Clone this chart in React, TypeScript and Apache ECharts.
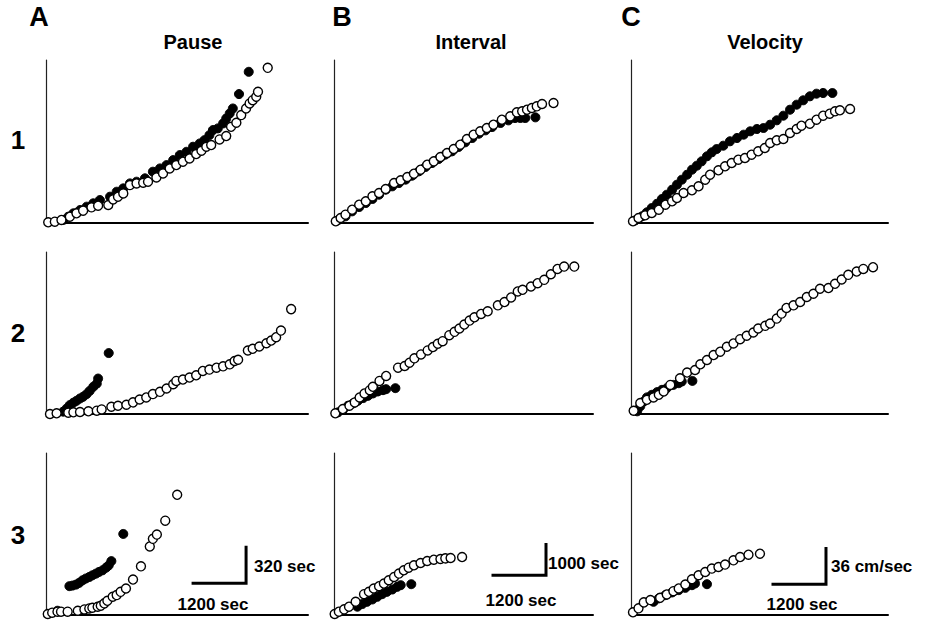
import React, { useEffect, useRef } from "react";
import * as echarts from "echarts";

// ---- column titles / row labels ----
const columnLetters = ["A", "B", "C"];
const columnTitles = ["Pause", "Interval", "Velocity"];
const rowLabels = ["1", "2", "3"];

// ---- data: [time (sec), value] ----
// Column A: cumulative pause (sec)
const pause1Open = [[50,6],[200,12],[350,27],[540,56],[690,86],[840,110],[1030,139],[1180,154],[1410,160],[1520,210],[1630,234],[1750,263],[1900,337],[2050,352],[2200,358],[2310,367],[2500,405],[2650,441],[2800,485],[2950,515],[3100,545],[3250,574],[3400,613],[3520,642],[3630,678],[3740,693],[3930,743],[4080,773],[4190,855],[4310,891],[4420,959],[4530,1018],[4610,1063],[4680,1092],[4760,1122],[4800,1166],[5020,1379]];
const pause1Filled = [[390,27],[505,56],[620,86],[770,115],[920,145],[1070,175],[1220,204],[1450,234],[1600,278],[1750,308],[1900,352],[2050,367],[2240,397],[2420,456],[2580,485],[2730,515],[2880,559],[3030,604],[3180,633],[3330,678],[3480,707],[3590,737],[3700,781],[3780,826],[3890,841],[4010,885],[4080,929],[4160,974],[4230,1018],[4370,1146],[4590,1344]];
const pause2Open = [[90,0],[240,6],[505,12],[620,15],[770,18],[960,24],[1150,30],[1260,41],[1480,65],[1630,74],[1820,83],[1970,104],[2120,130],[2270,148],[2420,178],[2580,198],[2730,228],[2880,266],[2950,296],[3100,308],[3250,326],[3400,346],[3550,385],[3700,397],[3860,414],[4010,426],[4160,444],[4270,474],[4350,485],[4570,568],[4680,583],[4830,604],[4990,633],[5100,657],[5210,687],[5320,746],[5550,938]];
const pause2Filled = [[390,21],[470,50],[540,80],[620,101],[690,118],[770,139],[840,154],[920,178],[990,207],[1070,243],[1150,272],[1180,317],[1420,545]];
const pause3Open = [[40,9],[140,21],[260,30],[340,30],[490,30],[720,38],[870,50],[980,59],[1050,65],[1170,74],[1240,83],[1320,104],[1390,127],[1510,163],[1600,178],[1690,207],[1810,237],[1970,317],[2150,435],[2350,613],[2420,681],[2510,719],[2700,844],[2970,1075]];
const pause3Filled = [[260,38],[530,258],[600,263],[680,272],[750,287],[830,311],[900,326],[980,340],[1050,355],[1130,370],[1200,385],[1280,400],[1360,423],[1420,444],[1480,482],[1750,725]];

// Column B: cumulative interval (sec)
const interval1Open = [[40,54],[150,161],[260,269],[410,430],[570,591],[720,699],[870,860],[1020,968],[1170,1097],[1360,1290],[1510,1376],[1660,1484],[1810,1591],[1960,1720],[2110,1881],[2260,1989],[2410,2129],[2560,2258],[2710,2387],[2860,2526],[3010,2709],[3160,2849],[3310,2956],[3460,3064],[3610,3171],[3800,3333],[3990,3440],[4140,3569],[4260,3601],[4370,3655],[4480,3709],[4590,3763],[4710,3838],[4970,3870]];
const interval1Filled = [[110,108],[260,215],[410,376],[570,516],[720,645],[870,774],[1020,914],[1170,1075],[1320,1183],[1470,1290],[1620,1398],[1770,1527],[1920,1666],[2070,1806],[2220,1935],[2370,2064],[2520,2204],[2670,2311],[2820,2451],[2970,2602],[3130,2741],[3280,2881],[3430,2989],[3580,3096],[3770,3225],[3950,3311],[4100,3386],[4220,3386],[4330,3386],[4560,3408]];
const interval2Open = [[30,22],[200,161],[350,269],[470,376],[580,538],[690,667],[810,774],[880,882],[1030,1075],[1180,1236],[1450,1505],[1600,1559],[1710,1666],[1820,1806],[1970,1935],[2120,2064],[2240,2172],[2350,2279],[2460,2365],[2610,2559],[2730,2666],[2840,2774],[2950,2903],[3070,3032],[3180,3139],[3330,3247],[3480,3333],[3710,3526],[3860,3634],[4010,3784],[4160,3978],[4270,4031],[4460,4139],[4610,4246],[4760,4354],[4910,4537],[5060,4709],[5210,4784],[5440,4784]];
const interval2Filled = [[90,54],[200,129],[320,269],[430,344],[540,430],[660,516],[770,591],[880,667],[990,731],[1110,774],[1180,806],[1390,839]];
const interval3Open = [[15,32],[110,108],[230,183],[340,269],[490,430],[680,677],[790,753],[900,860],[1020,935],[1130,1021],[1240,1129],[1360,1236],[1470,1344],[1580,1451],[1690,1537],[1810,1613],[1960,1688],[2110,1752],[2260,1795],[2410,1817],[2520,1838],[2640,1849],[2900,1881]];
const interval3Filled = [[530,269],[640,355],[750,430],[870,505],[980,591],[1090,677],[1200,753],[1320,828],[1430,914],[1510,968],[1750,1000]];

// Column C: velocity (cm/sec)
const velocity1Open = [[45,1.7],[170,5],[320,7.7],[470,10],[630,13.3],[780,18.3],[930,21.7],[1040,25],[1190,30],[1380,32.7],[1530,36.7],[1680,43.3],[1790,48.3],[1980,52.7],[2130,56.7],[2280,60],[2430,63.3],[2580,65],[2730,68.3],[2880,71.7],[3030,75],[3150,80],[3300,82.7],[3450,84],[3600,90],[3750,94],[3860,97.3],[4050,99.3],[4200,103.3],[4350,107.3],[4500,109.3],[4620,111.7],[4730,112.7],[4960,114]];
const velocity1Filled = [[100,2.7],[250,6.7],[360,10.7],[470,15],[590,19.3],[700,24],[810,28.3],[930,33.3],[1040,38.3],[1150,43.3],[1270,48.3],[1380,53.3],[1490,57.3],[1600,61.7],[1720,66.7],[1830,70.7],[1940,74],[2090,77.3],[2240,81.7],[2400,85],[2550,88.3],[2700,91.7],[2850,94],[3000,95],[3150,98.3],[3300,102.7],[3450,107.3],[3600,113.3],[3750,118.3],[3900,122.7],[4050,126.7],[4200,129.3],[4350,130],[4560,130]];
const velocity2Open = [[60,3.3],[210,11],[360,14.3],[510,16.7],[630,19.3],[740,22.7],[890,29.3],[1110,36],[1270,41.7],[1450,44.3],[1570,50],[1720,54.3],[1870,59.3],[2020,62.7],[2170,67.7],[2320,71],[2470,75.3],[2620,78.7],[2770,82],[2880,86],[3040,88.7],[3150,91],[3300,96],[3410,101],[3520,106.7],[3680,109.3],[3830,112.7],[3980,117.7],[4130,121],[4280,126],[4470,126.7],[4620,131],[4770,135.3],[4920,140],[5110,143.3],[5260,146],[5480,147.7]];
const velocity2Filled = [[140,2.7],[210,7.7],[290,12.7],[360,16.7],[470,19.3],[590,22],[700,24.3],[810,26],[960,29.3],[1080,31],[1150,32.7],[1390,33.3]];
const velocity3Open = [[45,2.7],[170,6.7],[290,12.7],[440,15],[660,17.3],[810,20.7],[960,24],[1080,26.7],[1230,30.7],[1380,36],[1530,40],[1680,43.3],[1830,46.7],[1980,48.3],[2130,50.7],[2320,55],[2470,58.3],[2660,60.7],[2920,61.7]];
const velocity3Filled = [[510,13.3],[630,16.7],[780,20],[930,22.7],[1080,25],[1230,27.3],[1380,30],[1450,31.7],[1720,31]];

// scale bars (row 3): [x0, y0, x-length, y-length]
const scaleBars = [
  [3330, 285, 1200, 320],
  [3600, 1290, 1200, 1000],
  [3215, 31, 1200, 36],
];
const scaleLabelsY = ["320 sec", "1000 sec", "36 cm/sec"];
const scaleLabelX = "1200 sec";

const openData = [
  [pause1Open, interval1Open, velocity1Open],
  [pause2Open, interval2Open, velocity2Open],
  [pause3Open, interval3Open, velocity3Open],
];
const filledData = [
  [pause1Filled, interval1Filled, velocity1Filled],
  [pause2Filled, interval2Filled, velocity2Filled],
  [pause3Filled, interval3Filled, velocity3Filled],
];

// layout (px)
const gridLeft = [46, 334, 631];
const gridWidth = [262, 259, 257];
const gridTop = [60, 252, 453];
const gridHeight = [163, 162, 162];
const secPerPx = 1200 / 53;
const yUnitsPerPx = [320 / 36, 1000 / 31, 1];

const FONT = "'Liberation Sans', Arial, Helvetica, sans-serif";

export default function App() {
  const ref = useRef<HTMLDivElement>(null);
  useEffect(() => {
    if (!ref.current) return;
    const chart = echarts.init(ref.current, null, { renderer: "svg" });
    const grids: any[] = [];
    const xAxes: any[] = [];
    const yAxes: any[] = [];
    const series: any[] = [];
    const graphics: any[] = [];
    for (let r = 0; r < 3; r++) {
      for (let c = 0; c < 3; c++) {
        const i = r * 3 + c;
        grids.push({ left: gridLeft[c], top: gridTop[r], width: gridWidth[c], height: gridHeight[r] });
        xAxes.push({
          type: "value", gridIndex: i, min: 0, max: Math.round(gridWidth[c] * secPerPx),
          axisLine: { show: true, onZero: false, lineStyle: { color: "#000", width: 2 } },
          axisTick: { show: false }, axisLabel: { show: false }, splitLine: { show: false },
        });
        yAxes.push({
          type: "value", gridIndex: i, min: 0, max: Math.round(163 * yUnitsPerPx[c] * 10) / 10,
          axisLine: { show: true, onZero: false, lineStyle: { color: "#222", width: 1.2 } },
          axisTick: { show: false }, axisLabel: { show: false }, splitLine: { show: false },
        });
        series.push({
          type: "scatter", xAxisIndex: i, yAxisIndex: i, data: filledData[r][c],
          symbol: "circle", symbolSize: 9, clip: false,
          itemStyle: { color: "#000", borderColor: "#000", borderWidth: 1, opacity: 1 },
        });
        series.push({
          type: "scatter", xAxisIndex: i, yAxisIndex: i, data: openData[r][c],
          symbol: "circle", symbolSize: 9, clip: false,
          itemStyle: { color: "#fff", borderColor: "#000", borderWidth: 1.4, opacity: 1 },
        });
        if (r === 2) {
          const [x0, y0, lx, ly] = scaleBars[c];
          series.push({
            type: "line", xAxisIndex: i, yAxisIndex: i, symbol: "none",
            data: [[x0, y0], [x0 + lx, y0], [x0 + lx, y0 + ly]],
            lineStyle: { color: "#000", width: 3, cap: "square", join: "miter" },
            z: 5,
          });
        }
      }
    }
    // titles
    const letterX = [39, 342, 631];
    const titleX = [193, 471, 765];
    for (let c = 0; c < 3; c++) {
      graphics.push({ type: "text", x: letterX[c], y: 17, style: { text: columnLetters[c], font: `bold 27px ${FONT}`, fill: "#000", align: "center", verticalAlign: "middle" } });
      graphics.push({ type: "text", x: titleX[c], y: 42, style: { text: columnTitles[c], font: `bold 20px ${FONT}`, fill: "#000", align: "center", verticalAlign: "middle" } });
    }
    const rowY = [140, 333, 535];
    for (let r = 0; r < 3; r++) {
      graphics.push({ type: "text", x: 18, y: rowY[r], style: { text: rowLabels[r], font: `bold 26px ${FONT}`, fill: "#000", align: "center", verticalAlign: "middle" } });
    }
    // scale bar labels
    const yLabPos = [[254, 566], [548, 563], [831, 566]];
    const xLabPos = [[213, 604], [521, 600], [802, 604]];
    for (let c = 0; c < 3; c++) {
      graphics.push({ type: "text", x: yLabPos[c][0], y: yLabPos[c][1], style: { text: scaleLabelsY[c], font: `bold 17px ${FONT}`, fill: "#000", align: "left", verticalAlign: "middle" } });
      graphics.push({ type: "text", x: xLabPos[c][0], y: xLabPos[c][1], style: { text: scaleLabelX, font: `bold 17px ${FONT}`, fill: "#000", align: "center", verticalAlign: "middle" } });
    }
    chart.setOption({
      animation: false,
      backgroundColor: "#fff",
      grid: grids, xAxis: xAxes, yAxis: yAxes, series, graphic: graphics,
    });
    return () => chart.dispose();
  }, []);
  return <div ref={ref} style={{ position: "fixed", left: 0, top: 0, width: 926, height: 621 }} />;
}
